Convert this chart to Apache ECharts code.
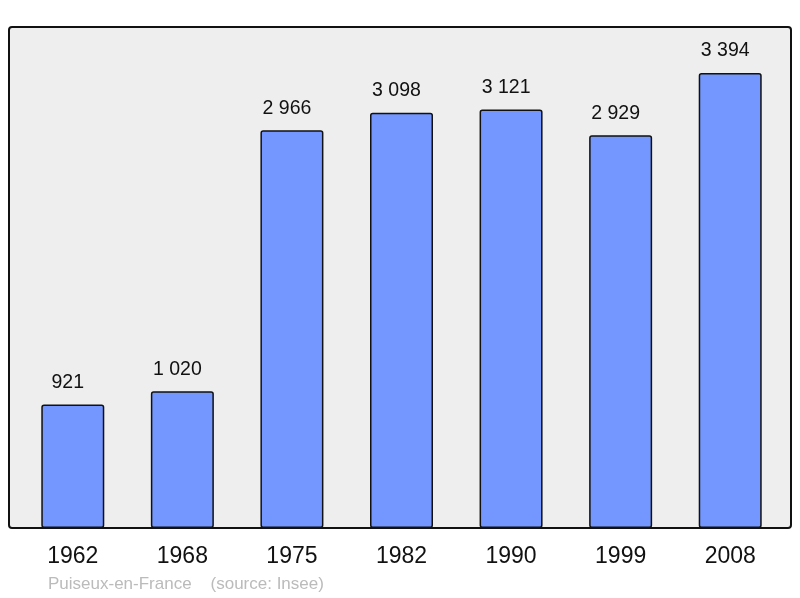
<!DOCTYPE html>
<html><head><meta charset="utf-8">
<script src="https://cdn.jsdelivr.net/npm/echarts@6/dist/echarts.min.js"></script>
<style>html,body{margin:0;padding:0;background:#fff}#c{width:800px;height:598px}</style>
</head><body><div id="c"></div>
<script>
const years = ['1962','1968','1975','1982','1990','1999','2008'];
const population = [921, 1020, 2966, 3098, 3121, 2929, 3394];
const footer = 'Puiseux-en-France    (source: Insee)';

const fmt = v => String(v).replace(/\B(?=(\d{3})+(?!\d))/g, ' ');
const chart = echarts.init(document.getElementById('c'), null, {renderer: 'canvas'});
chart.setOption({
  animation: false,
  textStyle: {fontFamily: 'Liberation Sans, Arial, sans-serif'},
  grid: {left: 18, right: 15, top: 27, bottom: 70},
  graphic: [
    {type: 'rect', z: -10, shape: {x: 9, y: 27, width: 782, height: 501, r: 3},
     style: {fill: '#eeeeee', stroke: '#111', lineWidth: 2}},
    {type: 'text', left: 48, top: 576, style: {text: footer, fill: '#bbbbbb', font: '17px Liberation Sans, Arial, sans-serif'}}
  ],
  xAxis: {type: 'category', data: years,
    axisLine: {show: false}, axisTick: {show: false},
    axisLabel: {color: '#111', fontSize: 23, margin: 17}},
  yAxis: {type: 'value', min: 0, max: 3737, show: false, splitLine: {show: false}},
  series: [{type: 'bar', data: population, barWidth: 63,
    itemStyle: {color: '#7396ff', borderColor: '#111', borderWidth: 1.5, borderRadius: 2},
    label: {show: true, position: 'top', distance: 12, offset: [-5, 0], color: '#111', fontSize: 19.5,
      formatter: p => fmt(p.value)}}]
});
</script></body></html>
